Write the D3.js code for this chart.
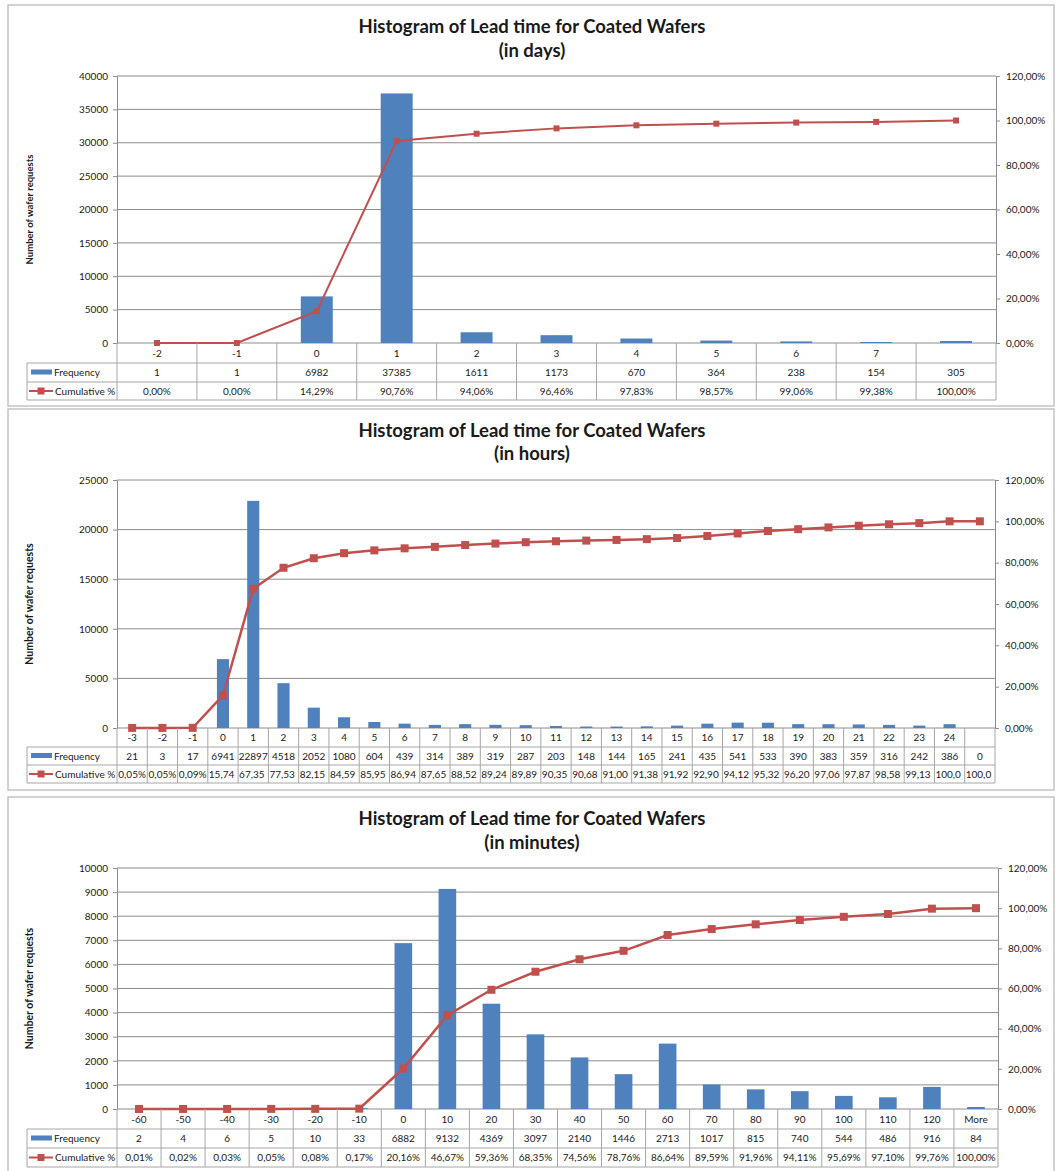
<!DOCTYPE html>
<html>
<head>
<meta charset="utf-8">
<script src="https://cdn.jsdelivr.net/npm/d3@7"></script>
<style>
  body { margin: 0; background: #fff; }
  text { font-family: Lato, 'Open Sans', sans-serif; fill: #1a1a1a; }
</style>
</head>
<body>
<svg id="chart" width="1057" height="1171"></svg>
<script>
// ---- data : lead time in days ----
const daysCategories = ['-2', '-1', '0', '1', '2', '3', '4', '5', '6', '7', '']
const daysFrequency = [1, 1, 6982, 37385, 1611, 1173, 670, 364, 238, 154, 305]
const daysCumulative = [0.00, 0.00, 14.29, 90.76, 94.06, 96.46, 97.83, 98.57, 99.06, 99.38, 100.00]
const daysCountTicks = [0, 5000, 10000, 15000, 20000, 25000, 30000, 35000, 40000]

// ---- data : lead time in hours ----
const hoursCategories = ['-3', '-2', '-1', '0', '1', '2', '3', '4', '5', '6', '7', '8', '9', '10', '11', '12',
  '13', '14', '15', '16', '17', '18', '19', '20', '21', '22', '23', '24', '']
const hoursFrequency = [21, 3, 17, 6941, 22897, 4518, 2052, 1080, 604, 439, 314, 389, 319, 287, 203, 148,
  144, 165, 241, 435, 541, 533, 390, 383, 359, 316, 242, 386, 0]
const hoursCumulative = [0.05, 0.05, 0.09, 15.74, 67.35, 77.53, 82.15, 84.59, 85.95, 86.94, 87.65, 88.52, 89.24, 89.89, 90.35, 90.68,
  91.00, 91.38, 91.92, 92.90, 94.12, 95.32, 96.20, 97.06, 97.87, 98.58, 99.13, 100.00, 100.00]
const hoursCountTicks = [0, 5000, 10000, 15000, 20000, 25000]

// ---- data : lead time in minutes ----
const minutesCategories = ['-60', '-50', '-40', '-30', '-20', '-10', '0', '10', '20', '30', '40', '50', '60',
  '70', '80', '90', '100', '110', '120', 'More']
const minutesFrequency = [2, 4, 6, 5, 10, 33, 6882, 9132, 4369, 3097, 2140, 1446, 2713, 1017, 815, 740, 544, 486, 916, 84]
const minutesCumulative = [0.01, 0.02, 0.03, 0.05, 0.08, 0.17, 20.16, 46.67, 59.36, 68.35, 74.56, 78.76, 86.64,
  89.59, 91.96, 94.11, 95.69, 97.10, 99.76, 100.00]
const minutesCountTicks = [0, 1000, 2000, 3000, 4000, 5000, 6000, 7000, 8000, 9000, 10000]

const percentTicks = [0, 0.2, 0.4, 0.6, 0.8, 1.0, 1.2]

const barColor = '#4F81BD'
const lineColor = '#C0504D'
const gridColor = '#8c8c8c'
const tableColor = '#a6a6a6'
const fontFamily = "Lato, 'Open Sans', sans-serif"

// comma decimal, like the original spreadsheet
const locale = d3.formatLocale({ decimal: ',', thousands: '.', grouping: [3], currency: ['', ''] })
const pct = locale.format('.2%')

const svg = d3.select('#chart')

function drawHistogram (o) {
  const g = svg.append('g')
  const left = 117
  const legendLeft = 27

  // chart frame
  g.append('rect')
    .attr('x', 8).attr('y', o.frameTop)
    .attr('width', 1046).attr('height', o.frameBottom - o.frameTop)
    .attr('fill', '#fff').attr('stroke', '#c4c4c4').attr('stroke-width', 1.5)

  // titles
  g.append('text').attr('x', 532).attr('y', o.titleY[0]).attr('text-anchor', 'middle')
    .attr('font-size', 18.5).attr('font-weight', 'bold').text('Histogram of Lead time for Coated Wafers')
  g.append('text').attr('x', 532).attr('y', o.titleY[1]).attr('text-anchor', 'middle')
    .attr('font-size', 18.5).attr('font-weight', 'bold').text(o.subtitle)

  // y axis title
  g.append('text')
    .attr('transform', 'translate(33,' + (o.plotTop + o.plotBottom) / 2 + ') rotate(-90)')
    .attr('text-anchor', 'middle').attr('font-size', o.yTitleSize).attr('font-weight', 'bold')
    .text('Number of wafer requests')

  // scales
  const x = d3.scaleBand().domain(d3.range(o.categories.length)).range([left, o.plotRight])
  const bw = x.bandwidth()
  const y = d3.scaleLinear().domain([0, d3.max(o.countTicks)]).range([o.plotBottom, o.plotTop])
  const y2 = d3.scaleLinear().domain([0, 1.2]).range([o.plotBottom, o.plotTop])

  // gridlines
  g.append('g').selectAll('line').data(o.countTicks).join('line')
    .attr('x1', left).attr('x2', o.plotRight)
    .attr('y1', d => y(d)).attr('y2', d => y(d))
    .attr('stroke', gridColor).attr('stroke-width', 1)

  // left axis
  const yAxis = d3.axisLeft(y).tickValues(o.countTicks).tickSize(4).tickSizeOuter(0).tickPadding(5).tickFormat(d3.format('d'))
  g.append('g').attr('transform', 'translate(' + left + ',0)').call(yAxis)
    .attr('font-family', fontFamily).attr('font-size', 10)
    .call(s => {
      s.select('.domain').attr('stroke', gridColor)
      s.selectAll('.tick line').attr('stroke', gridColor)
    })

  // right axis
  const yAxis2 = d3.axisRight(y2).tickValues(percentTicks).tickSize(4).tickSizeOuter(0).tickPadding(6).tickFormat(pct)
  g.append('g').attr('transform', 'translate(' + o.plotRight + ',0)').call(yAxis2)
    .attr('font-family', fontFamily).attr('font-size', 10)
    .call(s => {
      s.select('.domain').attr('stroke', gridColor)
      s.selectAll('.tick line').attr('stroke', gridColor)
    })

  // bars
  g.append('g').selectAll('rect').data(o.frequency).join('rect')
    .attr('x', (d, i) => x(i) + bw * 0.3)
    .attr('width', bw * 0.4)
    .attr('y', d => y(d))
    .attr('height', d => o.plotBottom - y(d))
    .attr('fill', barColor)

  // cumulative line + markers
  const line = d3.line().x((d, i) => x(i) + bw / 2).y(d => y2(d / 100))
  g.append('path').datum(o.cumulative)
    .attr('d', line).attr('fill', 'none')
    .attr('stroke', lineColor).attr('stroke-width', o.lineWidth)
  g.append('g').selectAll('rect').data(o.cumulative).join('rect')
    .attr('x', (d, i) => x(i) + bw / 2 - o.marker / 2)
    .attr('y', d => y2(d / 100) - o.marker / 2)
    .attr('width', o.marker).attr('height', o.marker)
    .attr('fill', lineColor)

  // data table
  const r = o.rows // [category row bottom, frequency row bottom, cumulative row bottom]
  const tg = g.append('g')
  const bounds = o.categories.map((c, i) => x(i)).concat([o.plotRight])
  // vertical separators in category row
  tg.selectAll('.vcat').data(bounds).join('line')
    .attr('x1', d => d).attr('x2', d => d)
    .attr('y1', o.plotBottom).attr('y2', r[0])
    .attr('stroke', tableColor)
  // vertical separators in value rows
  tg.selectAll('.vval').data([legendLeft].concat(bounds)).join('line')
    .attr('x1', d => d).attr('x2', d => d)
    .attr('y1', r[0]).attr('y2', r[2])
    .attr('stroke', tableColor)
  // horizontal lines
  tg.selectAll('.hrow').data(r).join('line')
    .attr('x1', legendLeft).attr('x2', o.plotRight)
    .attr('y1', d => d).attr('y2', d => d)
    .attr('stroke', tableColor)

  function cellText (rowTop, rowBottom, labels, cut) {
    labels.forEach((label, i) => {
      const t = tg.append('text')
        .attr('x', x(i) + bw / 2).attr('y', (rowTop + rowBottom) / 2).attr('dy', '0.35em')
        .attr('text-anchor', 'middle').attr('font-size', 10).text(label)
      // too wide for the cell: left align and cut the text, like the spreadsheet does
      if (cut && t.node().getComputedTextLength() > bw - 1) {
        let s = label
        while (s.length > 1 && t.node().getComputedTextLength() > bw - 1) {
          s = s.slice(0, -1)
          t.text(s)
        }
        t.attr('x', x(i) + 1).attr('text-anchor', 'start')
      }
    })
  }
  cellText(o.plotBottom, r[0], o.categories, false)
  cellText(r[0], r[1], o.frequency.map(d => String(d)), false)
  cellText(r[1], r[2], o.cumulative.map(d => pct(d / 100)), true)

  // legend keys
  const fy = (r[0] + r[1]) / 2
  const cy = (r[1] + r[2]) / 2
  tg.append('rect').attr('x', 31).attr('y', fy - 3).attr('width', 21).attr('height', 5).attr('fill', barColor)
  tg.append('text').attr('x', 54).attr('y', fy).attr('dy', '0.35em').attr('font-size', 10).text('Frequency')
  tg.append('line').attr('x1', 29).attr('x2', 53).attr('y1', cy).attr('y2', cy)
    .attr('stroke', lineColor).attr('stroke-width', 2)
  tg.append('rect').attr('x', 41 - 3.5).attr('y', cy - 3.5).attr('width', 7).attr('height', 7).attr('fill', lineColor)
  tg.append('text').attr('x', 55).attr('y', cy).attr('dy', '0.35em').attr('font-size', 10).text('Cumulative %')
}

drawHistogram({
  categories: daysCategories, frequency: daysFrequency, cumulative: daysCumulative, countTicks: daysCountTicks,
  subtitle: '(in days)',
  frameTop: 5, frameBottom: 406, titleY: [33, 57],
  plotTop: 76, plotBottom: 343, plotRight: 996, rows: [363, 382, 400],
  marker: 6, lineWidth: 2, yTitleSize: 9.5
})

drawHistogram({
  categories: hoursCategories, frequency: hoursFrequency, cumulative: hoursCumulative, countTicks: hoursCountTicks,
  subtitle: '(in hours)',
  frameTop: 409, frameBottom: 790, titleY: [437, 460],
  plotTop: 480, plotBottom: 728, plotRight: 995, rows: [747, 765, 783],
  marker: 8, lineWidth: 2.5, yTitleSize: 10.5
})

drawHistogram({
  categories: minutesCategories, frequency: minutesFrequency, cumulative: minutesCumulative, countTicks: minutesCountTicks,
  subtitle: '(in minutes)',
  frameTop: 797, frameBottom: 1190, titleY: [825, 849],
  plotTop: 868, plotBottom: 1109, plotRight: 998, rows: [1129, 1148, 1167],
  marker: 8, lineWidth: 2.5, yTitleSize: 10.5
})
</script>
</body>
</html>
